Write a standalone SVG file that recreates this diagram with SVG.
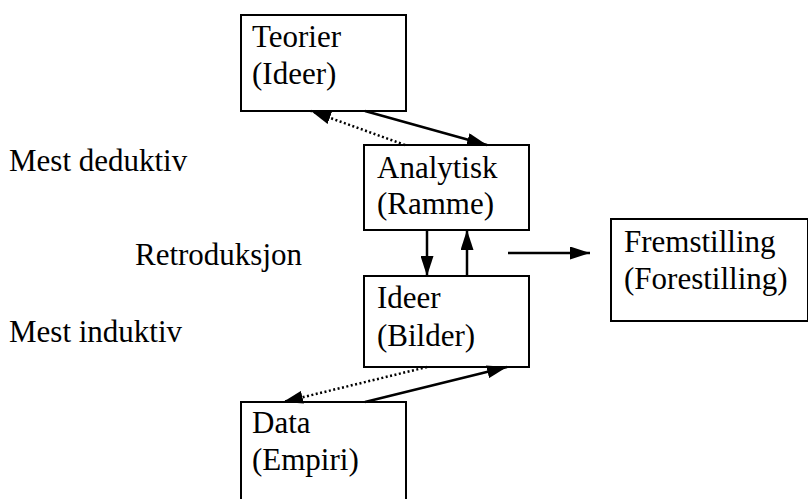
<svg xmlns="http://www.w3.org/2000/svg" width="808" height="499" viewBox="0 0 808 499">
  <style>
    .box { fill: #fff; stroke: #000; stroke-width: 2; }
    .solid { stroke: #000; stroke-width: 2.5; fill: none; }
    .dot { stroke: #000; stroke-width: 2.5; fill: none; stroke-dasharray: 2 2.5; }
  </style>
  <defs>
    <marker id="head" viewBox="0 0 10 10" refX="10" refY="5" markerWidth="20" markerHeight="13" markerUnits="userSpaceOnUse" orient="auto" preserveAspectRatio="none">
      <path d="M0,0 L10,5 L0,10 z" fill="#000"/>
    </marker>
  </defs>

  <rect width="808" height="499" fill="#fff"/>

  <g font-family="Liberation Serif" font-size="31" fill="#000">
    <!-- side labels -->
    <text x="9" y="171">Mest deduktiv</text>
    <text x="135" y="265">Retroduksjon</text>
    <text x="9" y="342">Mest induktiv</text>

    <g id="teorier">
      <rect class="box" x="241" y="15" width="165" height="96"/>
      <text x="252" y="47">Teorier</text>
      <text x="252" y="84">(Ideer)</text>
    </g>

    <g id="analytisk">
      <rect class="box" x="364" y="145" width="165" height="85"/>
      <text x="377" y="178">Analytisk</text>
      <text x="377" y="214">(Ramme)</text>
    </g>

    <g id="ideer">
      <rect class="box" x="364" y="276" width="165" height="91"/>
      <text x="377" y="308">Ideer</text>
      <text x="377" y="346">(Bilder)</text>
    </g>

    <g id="data">
      <rect class="box" x="241" y="402" width="165" height="100"/>
      <text x="252" y="433">Data</text>
      <text x="252" y="470">(Empiri)</text>
    </g>

    <g id="fremstilling">
      <rect class="box" x="611" y="219" width="197" height="102"/>
      <text x="624" y="252">Fremstilling</text>
      <text x="624" y="289">(Forestilling)</text>
    </g>
  </g>

  <g id="connectors">
    <line class="solid" x1="365" y1="111" x2="487" y2="145" marker-end="url(#head)"/>
    <line class="dot" x1="405" y1="145" x2="311" y2="111" marker-end="url(#head)"/>
    <line class="solid" x1="427" y1="230" x2="427" y2="276" marker-end="url(#head)"/>
    <line class="solid" x1="467" y1="276" x2="467" y2="230" marker-end="url(#head)"/>
    <line class="solid" x1="508" y1="253" x2="590" y2="253" marker-end="url(#head)"/>
    <line class="solid" x1="365" y1="402" x2="507" y2="367" marker-end="url(#head)"/>
    <line class="dot" x1="427" y1="367" x2="283" y2="402" marker-end="url(#head)"/>
  </g>
</svg>
